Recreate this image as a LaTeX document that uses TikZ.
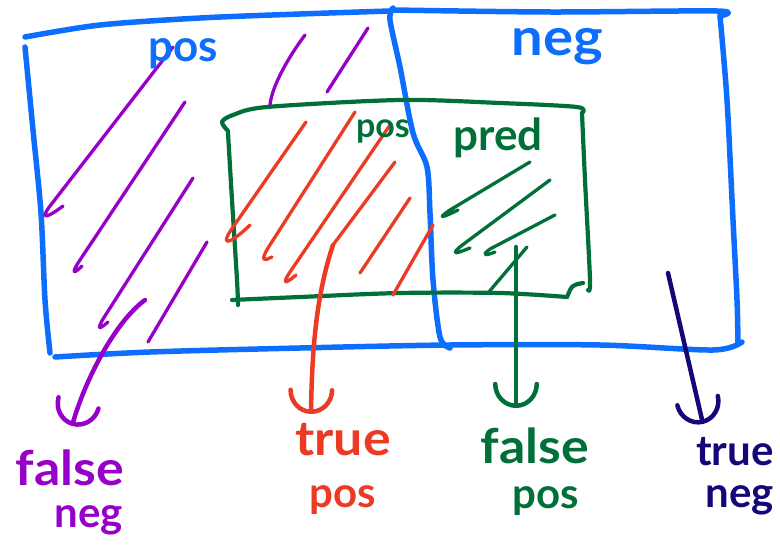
\documentclass[tikz,border=0pt]{standalone}
\usepackage{fontspec}
\newfontfamily\hand[FakeStretch=1.08]{Lato}
\newfontfamily\handnarrow{Lato}
\usetikzlibrary{arrows.meta}

\definecolor{inkblue}{RGB}{13,110,253}
\definecolor{inkpurple}{RGB}{150,0,200}
\definecolor{inkred}{RGB}{236,58,36}
\definecolor{inkgreen}{RGB}{0,112,56}
\definecolor{inknavy}{RGB}{20,8,120}

\tikzset{
  frame/.style={draw=inkblue, line width=5.5pt, line cap=round, line join=round},
  predbox/.style={draw=inkgreen, line width=4.2pt, line cap=round, line join=round},
  hatch/.style={line width=3.3pt, line cap=round, line join=round},
  pointer/.style={line width=4.5pt, line cap=round, line join=round,
    -{Arc Barb[length=24pt,width=46pt,round]}},
  word/.style={inner sep=0pt, anchor=base},
  big/.style={word, font=\hand\bfseries\fontsize{48}{48}\selectfont},
  small/.style={word, font=\handnarrow\bfseries\fontsize{42}{42}\selectfont},
}

\begin{document}
\begin{tikzpicture}[x=1pt, y=-1pt]
\useasboundingbox (0,0) rectangle (780,551);

% ---- outer frame: actual positives / negatives ----
\draw[frame] plot[smooth] coordinates {(25,37) (100,25) (200,18) (300,14) (390,11)};
\draw[frame] plot[smooth] coordinates {(393,10) (550,12) (717,11) (720,16)};
\draw[frame] plot[smooth] coordinates {(720,16) (727,100) (733,220) (737,300) (738,343)};
\draw[frame] plot[smooth] coordinates {(742,342) (713,350) (600,345) (450,345) (300,348) (150,352) (55,357)};
\draw[frame] plot[smooth] coordinates {(50,353) (45,300) (41,213) (33,130) (25,47)};
% divider between the two classes
\draw[frame] plot[smooth] coordinates {(393,8) (390,20) (400,67) (413,133) (427,167) (430,213) (433,280) (440,337) (450,348)};

% ---- predicted-positive box ----
\draw[predbox] plot[smooth] coordinates {(228,131) (222,122) (233,115) (267,107) (400,100) (500,103) (577,107) (582,113)};
\draw[predbox] plot[smooth] coordinates {(582,113) (585,180) (590,280) (588,290)};
\draw[predbox] (583,283) .. controls (572,285) .. (567,297);
\draw[predbox] plot[smooth] coordinates {(567,297) (500,293) (400,293) (300,297) (232,300)};
\draw[predbox] plot[smooth] coordinates {(228,133) (232,200) (237,280) (238,305)};

% ---- hatching (each stroke ends in a small rounded flick) ----
\begin{scope}[hatch, draw=inkpurple]
  \draw (173,47) -- (50,206) .. controls (38,222) and (50,216) .. (63,206);
  \draw (185,102) -- (78,263) .. controls (70,276) and (76,272) .. (82,266);
  \draw (193,178) -- (103,319) .. controls (95,333) and (102,327) .. (108,322);
  \draw (207,242) -- (148,342);
  \draw (305,35) .. controls (290,55) and (272,85) .. (270,105);
  \draw (368,28) -- (327,92);
\end{scope}
\begin{scope}[hatch, draw=inkred]
  \draw (306,122) -- (231,230) .. controls (218,250) and (235,240) .. (250,225);
  \draw (355,112) -- (268,248) .. controls (259,263) and (266,260) .. (272,257);
  \draw (390,125) -- (290,272) .. controls (280,287) and (288,282) .. (296,275);
  \draw (395,162) -- (333,245);
  \draw (410,198) -- (360,273);
  \draw (433,225) -- (393,295);
\end{scope}
\begin{scope}[hatch, draw=inkgreen]
  \draw (530,162) -- (450,210) .. controls (434,221) and (446,216) .. (458,210);
  \draw (550,180) -- (461,246) .. controls (448,257) and (460,252) .. (470,248);
  \draw (555,215) -- (490,249) .. controls (479,257) and (488,255) .. (495,252);
  \draw (527,247) -- (488,293);
\end{scope}

% ---- region titles ----
\node[word, text=inkblue, font=\handnarrow\bfseries\fontsize{44}{44}\selectfont] (tpos) at (183,62) {pos};
\node[word, text=inkblue, font=\hand\bfseries\fontsize{52}{52}\selectfont] (tneg) at (557,56) {neg};
\node[word, text=inkgreen, font=\handnarrow\bfseries\fontsize{34}{34}\selectfont] (ppos) at (383,137) {pos};
\node[word, text=inkgreen, font=\handnarrow\bfseries\fontsize{44}{44}\selectfont] (pred) at (498,150) {pred};

% ---- outcome labels ----
\node[big, text=inkpurple] (fn1) at (70,485) {false};
\node[small, text=inkpurple] (fn2) at (89,527) {neg};
\node[big, text=inkred] (tp1) at (343,455) {true};
\node[small, text=inkred] (tp2) at (343,507) {pos};
\node[big, text=inkgreen] (fp1) at (535,463) {false};
\node[small, text=inkgreen] (fp2) at (546,508) {pos};
\node[word, text=inknavy, font=\handnarrow\bfseries\fontsize{42}{42}\selectfont] (tn1) at (735,465) {true};
\node[small, text=inknavy] (tn2) at (740,507) {neg};

% ---- pointers from regions to labels ----
\coordinate (fnFrom) at (145,300);
\coordinate (fnTo) at (72,426);
\coordinate (tpFrom) at (333,245);
\coordinate (tpTo) at (311,414);
\coordinate (fpFrom) at (516,247);
\coordinate (fpTo) at (516,408);
\coordinate (tnFrom) at (668,273);
\coordinate (tnTo) at (703,424);

\draw[pointer, draw=inkpurple] (fnFrom) .. controls (115,322) and (85,380) .. (fnTo);
\draw[pointer, draw=inkred] (tpFrom) .. controls (318,290) and (312,340) .. (tpTo);
\draw[pointer, draw=inkgreen] (fpFrom) -- (fpTo);
\draw[pointer, draw=inknavy] (tnFrom) -- (tnTo);
\end{tikzpicture}
\end{document}
